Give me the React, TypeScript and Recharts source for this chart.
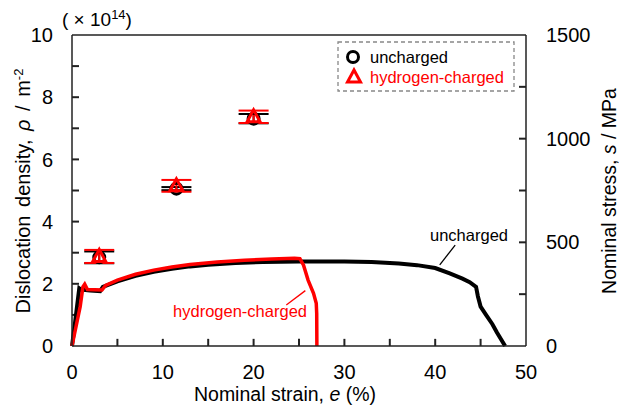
import React from 'react';
import {
  ComposedChart, Line, Scatter, ErrorBar, XAxis, YAxis, ReferenceLine,
} from 'recharts';

const FONT = '"Liberation Sans", Arial, sans-serif';

// tensile curves (strain %, nominal stress MPa)
const strainUncharged = [0, 0.3, 0.8, 1.0, 2.0, 3.1, 3.4, 5, 7, 9, 11, 13, 15, 18, 21, 25, 30, 33, 36, 38, 40, 41.6, 43, 43.8, 44.5, 44.7, 45.0, 45.6, 46.3, 46.8, 47.7];
const stressUncharged = [0, 100, 278, 272, 268, 265, 285, 312, 338, 358, 372, 384, 392, 400, 405, 407, 407, 405, 398, 390, 376, 350, 325, 308, 285, 240, 190, 150, 105, 65, 0];

const strainCharged = [0, 0.9, 1.2, 1.4, 1.7, 3.3, 3.7, 5, 7, 9, 11, 13, 16, 19, 22, 24.5, 25.1, 25.5, 26.0, 26.6, 26.9, 26.95, 26.97];
const stressCharged = [0, 190, 285, 298, 272, 270, 292, 318, 346, 366, 381, 393, 405, 414, 420, 423, 421, 390, 318, 254, 206, 157, 0];

// dislocation density (x1e14 m^-2)
const rhoStrain = [3, 11.5, 20];
const rhoUncharged = [2.85, 5.06, 7.31];
const rhoUnchargedErr = [0.19, 0.05, 0.15];
const rhoCharged = [2.88, 5.15, 7.37];
const rhoChargedErr = [0.21, 0.19, 0.2];

const xTicks = [0, 5, 10, 15, 20, 25, 30, 35, 40, 45, 50];
const rhoTicks = [0, 1, 2, 3, 4, 5, 6, 7, 8, 9, 10];
const stressTicks = [0, 250, 500, 750, 1000, 1250, 1500];

const unchargedCurve = strainUncharged.map((x, i) => ({ x, s: stressUncharged[i] }));
const chargedCurve = strainCharged.map((x, i) => ({ x, s: stressCharged[i] }));
const unchargedRho = rhoStrain.map((x, i) => ({ x, rho: rhoUncharged[i], err: rhoUnchargedErr[i] }));
const chargedRho = rhoStrain.map((x, i) => ({ x, rho: rhoCharged[i], err: rhoChargedErr[i] }));

const AXIS = '#222';
const tickStyle = { fontSize: 20, fill: '#000', fontFamily: FONT };
// inward tick length, in axis units (~7px)
const X_TICK_LEN = 0.23; // rho units
const Y_TICK_LEN = 0.77; // strain units

const CircleMark = (p: any) => (
  <circle cx={p.cx} cy={p.cy} r={5.5} fill="none" stroke="#000" strokeWidth={3} />
);
const TriMark = (p: any) => {
  const { cx, cy } = p;
  const pts = `${cx},${cy - 7} ${cx - 6.5},${cy + 5} ${cx + 6.5},${cy + 5}`;
  return <polygon points={pts} fill="none" stroke="#f00" strokeWidth={3} />;
};

export default function App() {
  return (
    <div style={{ position: 'absolute', left: 0, top: 0, width: 619, height: 408, background: '#fff', fontFamily: FONT }}>
      <ComposedChart width={619} height={408} margin={{ top: 35, right: 0, bottom: 0, left: 0 }}>
        <XAxis
          dataKey="x" type="number" domain={[0, 50]} ticks={xTicks} interval={0} height={62}
          tickSize={0} tickMargin={19} tickLine={false} tick={tickStyle}
          tickFormatter={(v: number) => (v % 10 === 0 ? String(v) : '')}
          axisLine={{ stroke: AXIS, strokeWidth: 1.5 }}
        />
        <YAxis
          yAxisId="rho" type="number" domain={[0, 10]} ticks={rhoTicks} interval={0} width={72}
          tickSize={0} tickMargin={19} tickLine={false} tick={tickStyle}
          tickFormatter={(v: number) => (v % 2 === 0 ? String(v) : '')}
          axisLine={{ stroke: AXIS, strokeWidth: 1.5 }}
        />
        <YAxis
          yAxisId="s" orientation="right" type="number" domain={[0, 1500]} ticks={stressTicks} interval={0} width={93}
          tickSize={0} tickMargin={20} tickLine={false} tick={tickStyle}
          tickFormatter={(v: number) => (v % 500 === 0 ? String(v) : '')}
          axisLine={{ stroke: AXIS, strokeWidth: 1.5 }}
        />
        <ReferenceLine yAxisId="rho" y={10} stroke={AXIS} strokeWidth={1.5} />

        {/* inward tick marks */}
        {xTicks.slice(1, -1).map((v) => (
          <ReferenceLine key={`xt${v}`} yAxisId="rho" ifOverflow="visible" segment={[{ x: v, y: 0 }, { x: v, y: X_TICK_LEN }]} stroke={AXIS} strokeWidth={2} />
        ))}
        {rhoTicks.slice(1, -1).map((v) => (
          <ReferenceLine key={`lt${v}`} yAxisId="rho" ifOverflow="visible" segment={[{ x: 0, y: v }, { x: Y_TICK_LEN, y: v }]} stroke={AXIS} strokeWidth={2} />
        ))}
        {stressTicks.slice(1, -1).map((v) => (
          <ReferenceLine key={`rt${v}`} yAxisId="s" ifOverflow="visible" segment={[{ x: 50 - Y_TICK_LEN, y: v }, { x: 50, y: v }]} stroke={AXIS} strokeWidth={2} />
        ))}

        <ReferenceLine yAxisId="s" segment={[{ x: 40.5, y: 391 }, { x: 42.2, y: 487 }]} stroke="#000" strokeWidth={1.3} />
        <ReferenceLine yAxisId="s" segment={[{ x: 23.6, y: 198 }, { x: 25.7, y: 267 }]} stroke="#f00" strokeWidth={1.3} />

        <Line yAxisId="s" data={unchargedCurve} dataKey="s" type="linear" stroke="#000" strokeWidth={4} dot={false} isAnimationActive={false} />
        <Line yAxisId="s" data={chargedCurve} dataKey="s" type="linear" stroke="#f00" strokeWidth={3.5} dot={false} isAnimationActive={false} />

        <Scatter yAxisId="rho" data={unchargedRho} dataKey="rho" shape={CircleMark} isAnimationActive={false}>
          <ErrorBar dataKey="err" direction="y" width={15} stroke="#000" strokeWidth={2} isAnimationActive={false} />
        </Scatter>
        <Scatter yAxisId="rho" data={chargedRho} dataKey="rho" shape={TriMark} isAnimationActive={false}>
          <ErrorBar dataKey="err" direction="y" width={15} stroke="#f00" strokeWidth={2} isAnimationActive={false} />
        </Scatter>
      </ComposedChart>

      <svg width={619} height={408} style={{ position: 'absolute', left: 0, top: 0, pointerEvents: 'none' }} fontFamily={FONT}>
        {/* multiplier */}
        <text x={62} y={26} fontSize={19} fill="#000">
          ( × 10<tspan fontSize={13} dy={-7}>14</tspan><tspan dy={7}>)</tspan>
        </text>
        {/* axis titles */}
        <text x={285} y={401} fontSize={19.5} textAnchor="middle" fill="#000">
          Nominal strain, <tspan fontStyle="italic">e</tspan> (%)
        </text>
        <text transform="translate(30,191) rotate(-90)" fontSize={20} textAnchor="middle" fill="#000" wordSpacing={3}>
          Dislocation density, <tspan fontStyle="italic">ρ</tspan> / m<tspan fontSize={13} dy={-7}>-2</tspan>
        </text>
        <text transform="translate(616,191) rotate(-90)" fontSize={19.5} textAnchor="middle" fill="#000">
          Nominal stress, <tspan fontStyle="italic">s</tspan> / MPa
        </text>
        {/* annotations */}
        <text x={430} y={241} fontSize={16.5} fill="#000">uncharged</text>
        <text x={307} y={317} fontSize={16.5} fill="#f00" textAnchor="end">hydrogen-charged</text>
        {/* legend */}
        <rect x={338} y={42} width={176} height={49} fill="#fff" stroke="#888" strokeWidth={1.3} strokeDasharray="4 3" />
        <circle cx={353} cy={57} r={5.5} fill="none" stroke="#000" strokeWidth={3} />
        <text x={370} y={63} fontSize={16.5} fill="#000">uncharged</text>
        <polygon points="354,70 347.5,82 360.5,82" fill="none" stroke="#f00" strokeWidth={3} />
        <text x={370} y={83} fontSize={16.5} fill="#f00">hydrogen-charged</text>
      </svg>
    </div>
  );
}
